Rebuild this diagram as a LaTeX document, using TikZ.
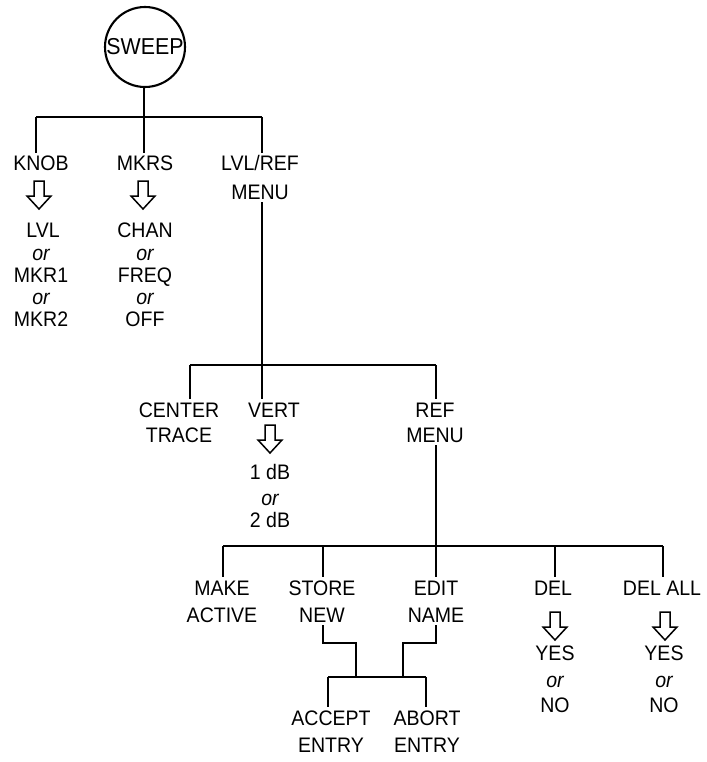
\documentclass[tikz,border=0pt]{standalone}
\usepackage{fontspec}
\setmainfont{Liberation Sans}[FakeStretch=0.93]
\begin{document}
\begin{tikzpicture}[x=1pt,y=-1pt,
  lbl/.style={anchor=base,inner sep=3pt,font=\fontsize{21}{25}\selectfont},
  orl/.style={lbl,font=\fontsize{21}{25}\selectfont\itshape},
  conn/.style={line width=2.1pt},
  downarrow/.pic={\draw[line width=1.5pt,line join=miter] (-5,0) -- (-5,15) -- (-12,15) -- (0,28) -- (12,15) -- (5,15) -- (5,0) -- cycle;}]
\useasboundingbox (0,0) rectangle (706,762);

% level 0
\node[draw,circle,line width=2.1pt,minimum size=80pt,inner sep=0pt,font=\fontsize{23}{27}\selectfont] (sweep) at (145,47) {SWEEP};

% level 1 labels
\node[lbl] (knob) at (41,171) {KNOB};
\node[lbl] (mkrs) at (145,171) {MKRS};
\node[lbl] (lvlref) at (260,171) {LVL/REF};
\node[lbl] (menu1) at (260,199) {MENU};

\pic at (39,181) {downarrow};
\pic at (143,181) {downarrow};

\node[lbl] (lvl) at (43,237) {LVL};
\node[orl] (or1) at (41,260) {or};
\node[lbl] (mkr1) at (41,282) {MKR1};
\node[orl] (or2) at (41,304) {or};
\node[lbl] (mkr2) at (41,326) {MKR2};

\node[lbl] (chan) at (145,237) {CHAN};
\node[orl] (or3) at (145,260) {or};
\node[lbl] (freq) at (145,282) {FREQ};
\node[orl] (or4) at (145,304) {or};
\node[lbl] (off) at (145,326) {OFF};

% bar 1
\coordinate (b1) at (144,117);
\coordinate (b1l) at (36,117);
\coordinate (b1r) at (262,117);
\draw[conn] (sweep.south -| b1) -- (b1);
\draw[conn] (b1l) -- (b1r);
\draw[conn] (b1l) -- (b1l |- knob.north);
\draw[conn] (b1) -- (b1 |- mkrs.north);
\draw[conn] (b1r) -- (b1r |- lvlref.north);

% level 2
\node[lbl] (center) at (179,417) {CENTER};
\node[lbl] (trace) at (179,442) {TRACE};
\node[lbl] (vert) at (274,417) {VERT};
\node[lbl] (ref) at (435,417) {REF};
\node[lbl] (menu2) at (435,442) {MENU};

\pic at (270,425) {downarrow};
\node[lbl] (db1) at (270,479) {1 dB};
\node[orl] (or5) at (270,505) {or};
\node[lbl] (db2) at (270,527) {2 dB};

\coordinate (b2) at (262,365);
\coordinate (b2l) at (190,365);
\coordinate (b2r) at (436,365);
\draw[conn] (b1r |- menu1.south) -- (b2);
\draw[conn] (b2l) -- (b2r);
\draw[conn] (b2l) -- (b2l |- center.north);
\draw[conn] (b2) -- (b2 |- vert.north);
\draw[conn] (b2r) -- (b2r |- ref.north);

% level 3
\node[lbl] (make) at (222,595) {MAKE};
\node[lbl] (active) at (222,622) {ACTIVE};
\node[lbl] (store) at (322,595) {STORE};
\node[lbl] (new) at (322,622) {NEW};
\node[lbl] (edit) at (436,595) {EDIT};
\node[lbl] (name) at (436,622) {NAME};
\node[lbl] (del) at (553,595) {DEL};
\node[lbl] (delall) at (662,595) {DEL ALL};

\pic at (555,612) {downarrow};
\pic at (665,612) {downarrow};
\node[lbl] (yes1) at (555,660) {YES};
\node[orl] (or6) at (555,687) {or};
\node[lbl] (no1) at (555,712) {NO};
\node[lbl] (yes2) at (664,660) {YES};
\node[orl] (or7) at (664,687) {or};
\node[lbl] (no2) at (664,712) {NO};

\coordinate (b3) at (436,546);
\coordinate (b3l) at (223,546);
\coordinate (b3r) at (663,546);
\coordinate (b3a) at (323,546);
\coordinate (b3d) at (555,546);
\draw[conn] (b2r |- menu2.south) -- (b3);
\draw[conn] (b3l) -- (b3r);
\draw[conn] (b3l) -- (b3l |- make.north);
\draw[conn] (b3a) -- (b3a |- store.north);
\draw[conn] (b3) -- (b3 |- edit.north);
\draw[conn] (b3d) -- (b3d |- del.north);
\draw[conn] (b3r) -- (b3r |- delall.north);

% level 4
\node[lbl] (accept) at (331,725) {ACCEPT};
\node[lbl] (entry1) at (331,752) {ENTRY};
\node[lbl] (abort) at (427,725) {ABORT};
\node[lbl] (entry2) at (427,752) {ENTRY};

\coordinate (b4) at (378,677);
\coordinate (b4l) at (328,677);
\coordinate (b4r) at (426,677);
\coordinate (s1) at (356,643);
\coordinate (s2) at (403,643);
\draw[conn] (b3a |- new.south) -- (b3a |- s1) -- (s1) -- (s1 |- b4);
\draw[conn] (b3 |- name.south) -- (b3 |- s2) -- (s2) -- (s2 |- b4);
\draw[conn] (b4l) -- (b4r);
\draw[conn] (b4l) -- (b4l |- accept.north);
\draw[conn] (b4r) -- (b4r |- abort.north);
\end{tikzpicture}
\end{document}
